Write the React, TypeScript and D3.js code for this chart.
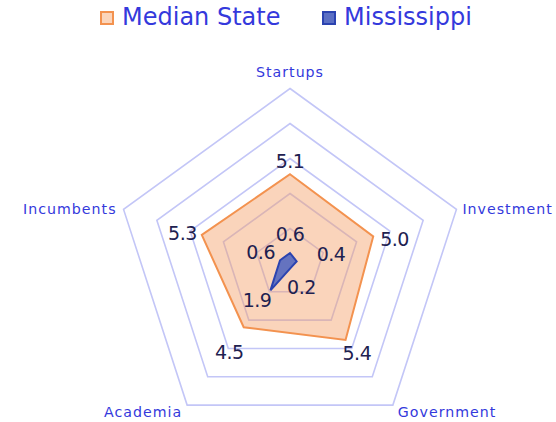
import React, { useEffect, useRef } from "react";
import * as d3 from "d3";

const axes = ["Startups", "Investment", "Government", "Academia", "Incumbents"];
const medianState = [5.1, 5.0, 5.4, 4.5, 5.3];
const mississippi = [0.6, 0.4, 0.2, 1.9, 0.6];
const gridLevels = [2, 4, 6, 8, 10];
const seriesNames = ["Median State", "Mississippi"];

const W = 556;
const H = 422;
const cx = 290;
const cy = 263.5;
const R = 175;
const BLUE_TEXT = "#3439dc";
const VALUE_TEXT = "#1e2150";

// label nudges per axis: [anchor, dx, dy]
const axisLabelPos: [string, number, number][] = [
  ["middle", 0, -12],
  ["start", 6, 5],
  ["start", 5, 12],
  ["end", -5, 12],
  ["end", -7, 5],
];
const medianLabelPos: [string, number, number][] = [
  ["middle", 0, -6],
  ["start", 7, 10],
  ["start", -3, 20],
  ["end", 0, 32],
  ["end", -5, 5],
];
const msLabelPos: [string, number, number][] = [
  ["middle", 0, -12],
  ["start", 20, 0],
  ["start", -5, 28],
  ["end", 1, 17],
  ["end", -5, -1],
];

const App = () => {
  const ref = useRef<SVGSVGElement>(null);

  useEffect(() => {
    const svg = d3.select(ref.current);
    svg.selectAll("*").remove();

    const r = d3.scaleLinear().domain([0, 10]).range([0, R]);
    const angle = d3
      .scalePoint<string>()
      .domain(axes)
      .range([0, (2 * Math.PI * (axes.length - 1)) / axes.length]);

    const pt = (axis: string, v: number) => {
      const a = angle(axis)!;
      return [cx + Math.sin(a) * r(v), cy - Math.cos(a) * r(v)];
    };

    const g = svg.append("g").attr("transform", `translate(${cx},${cy})`);

    const radial = d3
      .lineRadial<number>()
      .angle((d, i) => angle(axes[i])!)
      .radius((d) => r(d))
      .curve(d3.curveLinearClosed);

    // grid
    g.selectAll("path.grid")
      .data(gridLevels)
      .enter()
      .append("path")
      .attr("class", "grid")
      .attr("d", (lv) => radial(axes.map(() => lv)))
      .attr("fill", "none")
      .attr("stroke", "#c3c6f7")
      .attr("stroke-width", 1.6);

    // series
    g.append("path")
      .attr("d", radial(medianState))
      .attr("fill", "#f4a068")
      .attr("fill-opacity", 0.45)
      .attr("stroke", "#f3924f")
      .attr("stroke-width", 2)
      .attr("stroke-linejoin", "miter");

    g.append("path")
      .attr("d", radial(mississippi))
      .attr("fill", "#5468c0")
      .attr("fill-opacity", 0.9)
      .attr("stroke", "#2b43b0")
      .attr("stroke-width", 2)
      .attr("stroke-linejoin", "miter");

    // axis labels
    axes.forEach((a, i) => {
      const [x, y] = pt(a, 10);
      const [anchor, dx, dy] = axisLabelPos[i];
      svg
        .append("text")
        .attr("x", x + dx)
        .attr("y", y + dy)
        .attr("text-anchor", anchor)
        .attr("font-family", "DejaVu Sans, sans-serif")
        .attr("font-size", 14.2)
        .attr("letter-spacing", 1)
        .attr("fill", BLUE_TEXT)
        .text(a);
    });

    // value labels
    const valueLabels = (vals: number[], pos: [string, number, number][]) => {
      vals.forEach((v, i) => {
        const [x, y] = pt(axes[i], v);
        const [anchor, dx, dy] = pos[i];
        svg
          .append("text")
          .attr("x", x + dx)
          .attr("y", y + dy)
          .attr("text-anchor", anchor)
          .attr("font-family", "DejaVu Sans, sans-serif")
          .attr("font-size", 19)
          .attr("letter-spacing", -0.5)
          .attr("fill", VALUE_TEXT)
          .text(d3.format(".1f")(v));
      });
    };
    valueLabels(medianState, medianLabelPos);
    valueLabels(mississippi, msLabelPos);

    // legend
    const legendX = [101, 323];
    const swatch = [
      { fill: "#fbd5bb", stroke: "#f3924f" },
      { fill: "#5b6fc4", stroke: "#2b43b0" },
    ];
    seriesNames.forEach((name, i) => {
      svg
        .append("rect")
        .attr("x", legendX[i])
        .attr("y", 12)
        .attr("width", 12)
        .attr("height", 12)
        .attr("fill", swatch[i].fill)
        .attr("stroke", swatch[i].stroke)
        .attr("stroke-width", 2);
      svg
        .append("text")
        .attr("x", legendX[i] + 21)
        .attr("y", 25)
        .attr("font-family", "DejaVu Sans, sans-serif")
        .attr("font-size", 24)
        .attr("fill", BLUE_TEXT)
        .text(name);
    });
  }, []);

  return (
    <svg
      ref={ref}
      width={W}
      height={H}
      style={{ position: "absolute", left: 0, top: 0, background: "#fff" }}
    />
  );
};

export default App;
